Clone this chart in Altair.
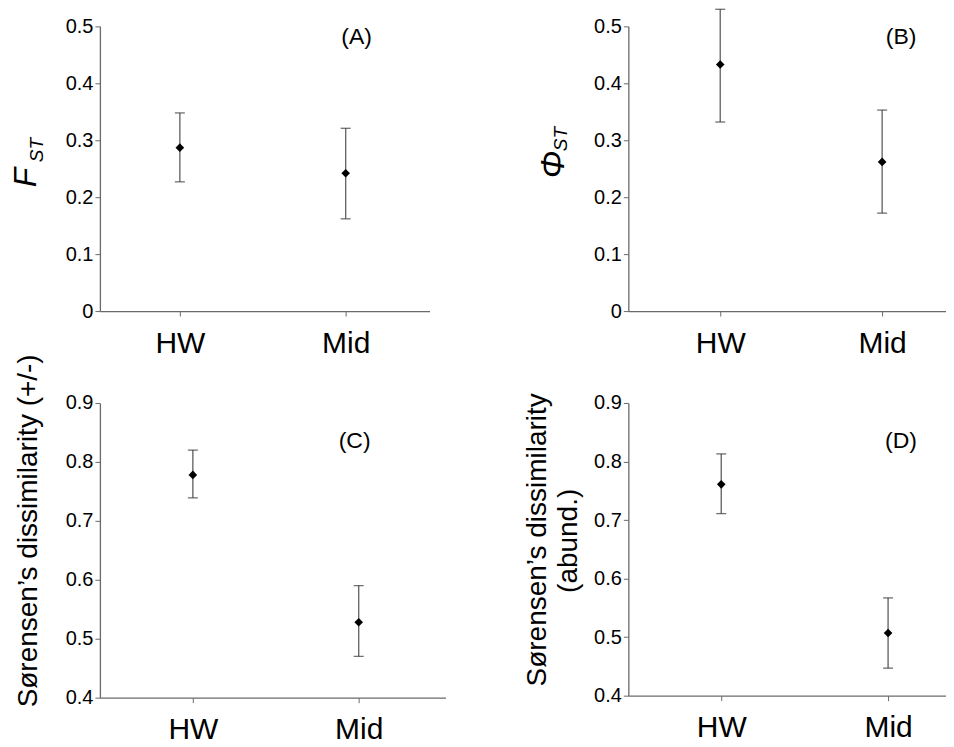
import altair as alt
import pandas as pd

sites = ["HW", "Mid"]

fst_mean = [0.287, 0.242]
fst_low = [0.227, 0.162]
fst_high = [0.348, 0.321]

phist_mean = [0.433, 0.262]
phist_low = [0.332, 0.172]
phist_high = [0.530, 0.353]

sor_pa_mean = [0.778, 0.528]
sor_pa_low = [0.739, 0.470]
sor_pa_high = [0.820, 0.590]

sor_ab_mean = [0.761, 0.507]
sor_ab_low = [0.711, 0.447]
sor_ab_high = [0.813, 0.567]

ticks_low = [0, 0.1, 0.2, 0.3, 0.4, 0.5]
ticks_high = [0.4, 0.5, 0.6, 0.7, 0.8, 0.9]

FONT = "Liberation Sans"
AXIS_COLOR = "#6a6a6a"


def text_layer(text, x, y, size, angle=0, align="center", baseline="middle", italic=False):
    kw = dict(font=FONT, fontSize=size, align=align, baseline=baseline, color="black")
    if angle:
        kw["angle"] = angle
    if italic:
        kw["fontStyle"] = "italic"
    return alt.Chart(pd.DataFrame({"t": [text]})).mark_text(**kw).encode(
        text="t:N", x=alt.value(x), y=alt.value(y)
    )


def panel(mean, low, high, domain, tick_vals, width, height, pad, align,
          letter, letter_xy, titles, label_pad=12):
    df = pd.DataFrame({"site": sites, "mean": mean, "low": low, "high": high})
    xenc = alt.X(
        "site:O", sort=sites,
        scale=alt.Scale(type="point", padding=pad, align=align),
        axis=alt.Axis(title=None, labelAngle=0, labelFontSize=30, labelFont=FONT,
                      labelColor="black", labelPadding=label_pad, tickSize=5,
                      domainColor=AXIS_COLOR, tickColor=AXIS_COLOR, domainWidth=1.3),
    )
    yscale = alt.Scale(domain=domain, nice=False, zero=False)
    yaxis = alt.Axis(title=None, values=tick_vals, format="~g", labelFontSize=20,
                     labelFont=FONT, labelColor="black", labelPadding=2, tickSize=5,
                     grid=False, domainColor=AXIS_COLOR, tickColor=AXIS_COLOR,
                     domainWidth=1.3)
    base = alt.Chart(df)
    rule = base.mark_rule(color="#6a6a6a", strokeWidth=1.4).encode(
        x=xenc, y=alt.Y("low:Q", scale=yscale, axis=yaxis), y2="high:Q")
    cap_lo = base.mark_tick(color="#333333", size=10, thickness=1.3).encode(
        x="site:O", y="low:Q")
    cap_hi = base.mark_tick(color="#333333", size=10, thickness=1.3).encode(
        x="site:O", y="high:Q")
    pts = base.mark_point(shape="diamond", filled=True, color="black", size=75,
                          opacity=1).encode(x="site:O", y="mean:Q")
    layers = [rule, cap_lo, cap_hi, pts,
              text_layer(letter, letter_xy[0], letter_xy[1], 23)]
    for t in titles:
        layers.append(text_layer(*t))
    return alt.layer(*layers).properties(width=width, height=height)


pA = panel(fst_mean, fst_low, fst_high, [0, 0.5], ticks_low, 330, 285, 0.494, 0.488,
           "(A)", (257, 11),
           [("F", -64, 161, 32, 270, "left", "alphabetic", True),
            ("ST", -57, 136, 19, 270, "left", "alphabetic", True)])
pB = panel(phist_mean, phist_low, phist_high, [0, 0.5], ticks_low, 318, 285, 0.481, 0.59,
           "(B)", (273, 11),
           [("Φ", -64, 152, 33, 270, "left", "alphabetic", True),
            ("ST", -61, 125, 19, 270, "left", "alphabetic", True)])
pC = panel(sor_pa_mean, sor_pa_low, sor_pa_high, [0.4, 0.9], ticks_high, 346, 295, 0.542, 0.517,
           "(C)", (255, 38),
           [("Sørensen’s dissimilarity (+/-)", -63, 128, 28, 270, "center", "alphabetic")])
pD = panel(sor_ab_mean, sor_ab_low, sor_ab_high, [0.4, 0.9], ticks_high, 318, 293, 0.452, 0.616,
           "(D)", (273, 38),
           [("Sørensen’s dissimilarity", -82, 137, 28, 270, "center", "alphabetic"),
            ("(abund.)", -51, 138, 28, 270, "center", "alphabetic")])

chart = alt.concat(
    pA, pB, pC, pD, columns=2, spacing={"row": 92, "column": 183}, bounds="flush"
).properties(
    padding={"left": 2, "top": 0, "right": 0, "bottom": 0}
).configure_view(stroke=None)

chart.save("out.html", embed_options={"renderer": "svg", "actions": False})
